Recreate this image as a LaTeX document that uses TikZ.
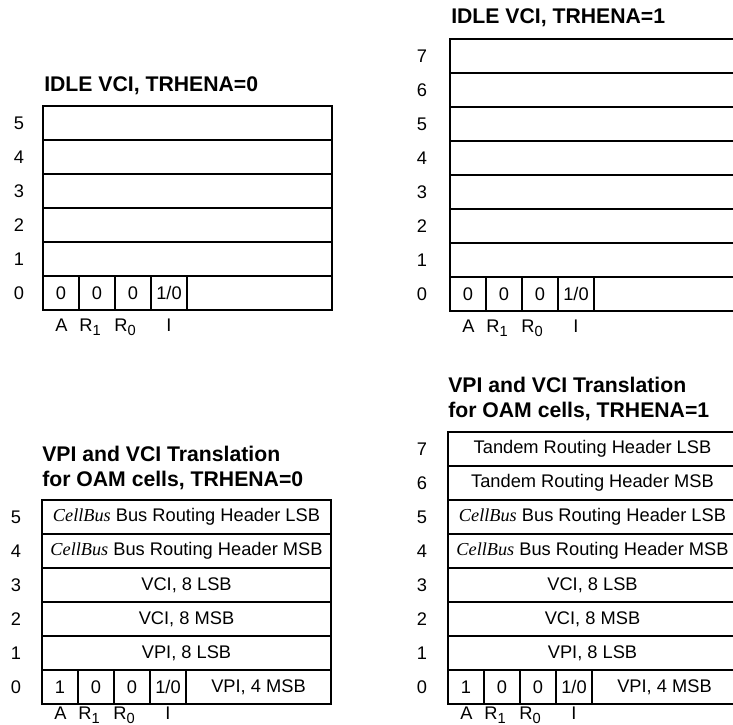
\documentclass[tikz,border=0pt]{standalone}
\usepackage{fontspec}
\setmainfont{Liberation Sans}
\newfontfamily\tms{Liberation Serif}
\newcommand{\cbus}{{\tms\itshape CellBus}}
\newcommand{\bodyfs}{\fontsize{13.7}{16}\selectfont}
\newcommand{\titlefs}{\fontsize{15.9}{18.75}\selectfont\bfseries}
\newcommand{\sbs}[1]{\raisebox{-3.2pt}{\fontsize{11}{12}\selectfont #1}}
\tikzset{
  rowbox/.style={draw, line width=1.4pt, anchor=north west, minimum width=216.75pt,
    minimum height=25.5pt, inner sep=0pt, outer sep=0pt, font=\bodyfs},
  bitbox/.style={rowbox, minimum width=27pt},
  restbox/.style={rowbox, minimum width=108.75pt},
  rowlab/.style={font=\bodyfs, inner sep=0pt},
  bitlab/.style={font=\bodyfs, inner sep=0pt, anchor=base},
  ttl/.style={font=\titlefs, anchor=west, align=left, inner sep=0pt}
}
\begin{document}
\begin{tikzpicture}[x=0.75pt,y=-0.75pt]
\useasboundingbox (0,0) rectangle (733,725);
\clip (0,0) rectangle (733,725);

% ---------- Top left: IDLE VCI, TRHENA=0 ----------
\node[ttl] (tlt) at (44,86) {IDLE VCI, TRHENA=0};
\foreach \r in {1,...,5}
  \node[rowbox] (tl\r) at (43,{106+(5-\r)*34}) {};
\node[bitbox] (tla) at (43,276) {0};
\node[bitbox] (tlb) at (79,276) {0};
\node[bitbox] (tlc) at (115,276) {0};
\node[bitbox] (tld) at (151,276) {1/0};
\node[restbox] (tle) at (187,276) {};
\foreach \r in {0,...,5}
  \node[rowlab] (tln\r) at (19,{106+(5-\r)*34+17}) {\r};
\node[bitlab] (tlA) at (61.5,331) {A};
\node[bitlab] (tlR1) at (90,331) {R\sbs{1}};
\node[bitlab] (tlR0) at (125,331) {R\sbs{0}};
\node[bitlab] (tlI) at (169,331) {I};

% ---------- Top right: IDLE VCI, TRHENA=1 ----------
\node[ttl] (trt) at (451,18) {IDLE VCI, TRHENA=1};
\foreach \r in {1,...,7}
  \node[rowbox] (tr\r) at (450,{39+(7-\r)*34}) {};
\node[bitbox] (tra) at (450,277) {0};
\node[bitbox] (trb) at (486,277) {0};
\node[bitbox] (trc) at (522,277) {0};
\node[bitbox] (trd) at (558,277) {1/0};
\node[restbox] (tre) at (594,277) {};
\foreach \r in {0,...,7}
  \node[rowlab] (trn\r) at (422,{39+(7-\r)*34+17}) {\r};
\node[bitlab] (trA) at (468.5,332) {A};
\node[bitlab] (trR1) at (497,332) {R\sbs{1}};
\node[bitlab] (trR0) at (532,332) {R\sbs{0}};
\node[bitlab] (trI) at (576,332) {I};

% ---------- Bottom left: OAM, TRHENA=0 ----------
\node[ttl] (blt) at (42,467.5) {VPI and VCI Translation\\for OAM cells, TRHENA=0};
\node[rowbox] (bl5) at (42,500) {\cbus\ Bus Routing Header LSB};
\node[rowbox] (bl4) at (42,534) {\cbus\ Bus Routing Header MSB};
\node[rowbox] (bl3) at (42,568) {VCI, 8 LSB};
\node[rowbox] (bl2) at (42,602) {VCI, 8 MSB};
\node[rowbox] (bl1) at (42,636) {VPI, 8 LSB};
\node[bitbox] (bla) at (42,670) {1};
\node[bitbox] (blb) at (78,670) {0};
\node[bitbox] (blc) at (114,670) {0};
\node[bitbox] (bld) at (150,670) {1/0};
\node[restbox] (ble) at (186,670) {VPI, 4 MSB};
\foreach \r in {0,...,5}
  \node[rowlab] (bln\r) at (16,{500+(5-\r)*34+17}) {\r};
\node[bitlab] (blA) at (60.5,719) {A};
\node[bitlab] (blR1) at (89,719) {R\sbs{1}};
\node[bitlab] (blR0) at (124,719) {R\sbs{0}};
\node[bitlab] (blI) at (168,719) {I};

% ---------- Bottom right: OAM, TRHENA=1 ----------
\node[ttl] (brt) at (448,398.5) {VPI and VCI Translation\\for OAM cells, TRHENA=1};
\node[rowbox] (br7) at (448,432) {Tandem Routing Header LSB};
\node[rowbox] (br6) at (448,466) {Tandem Routing Header MSB};
\node[rowbox] (br5) at (448,500) {\cbus\ Bus Routing Header LSB};
\node[rowbox] (br4) at (448,534) {\cbus\ Bus Routing Header MSB};
\node[rowbox] (br3) at (448,568) {VCI, 8 LSB};
\node[rowbox] (br2) at (448,602) {VCI, 8 MSB};
\node[rowbox] (br1) at (448,636) {VPI, 8 LSB};
\node[bitbox] (bra) at (448,670) {1};
\node[bitbox] (brb) at (484,670) {0};
\node[bitbox] (brc) at (520,670) {0};
\node[bitbox] (brd) at (556,670) {1/0};
\node[restbox] (bre) at (592,670) {VPI, 4 MSB};
\foreach \r in {0,...,7}
  \node[rowlab] (brn\r) at (422,{432+(7-\r)*34+17}) {\r};
\node[bitlab] (brA) at (466.5,719) {A};
\node[bitlab] (brR1) at (495,719) {R\sbs{1}};
\node[bitlab] (brR0) at (530,719) {R\sbs{0}};
\node[bitlab] (brI) at (574,719) {I};
\end{tikzpicture}
\end{document}
